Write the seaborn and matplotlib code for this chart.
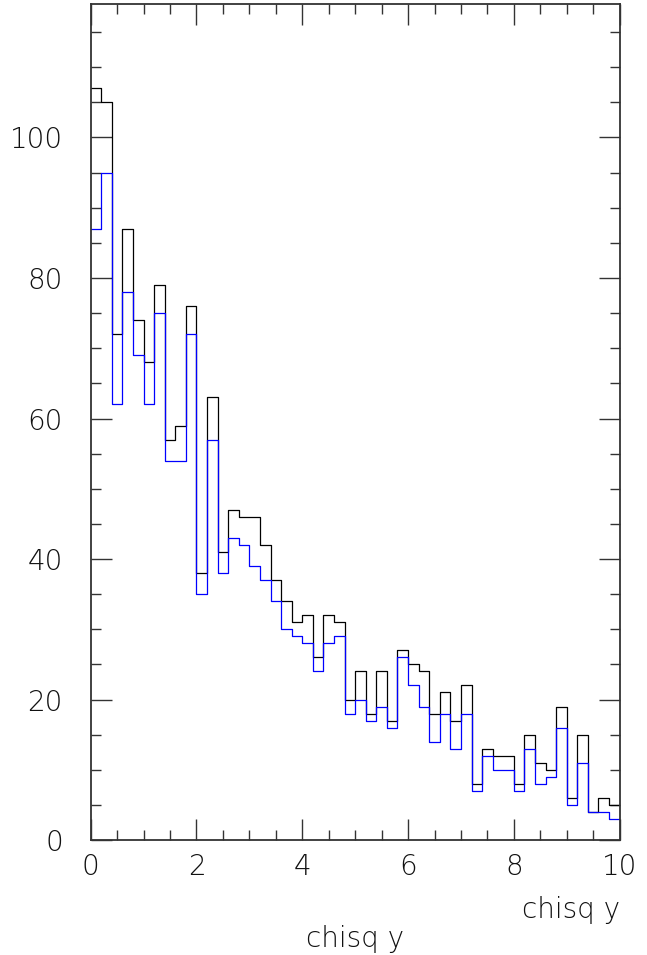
import numpy as np
import pandas as pd
import matplotlib
matplotlib.use('Agg')
import matplotlib.pyplot as plt
import seaborn as sns
from matplotlib.ticker import MultipleLocator

# bin edges: 50 bins of 0.2 between 0 and 10
edges = np.linspace(0, 10, 51)
centers = (edges[:-1] + edges[1:]) / 2

# black histogram (all entries)
counts_all = [107, 105, 72, 87, 74, 68, 79, 57, 59, 76,
              38, 63, 41, 47, 46, 46, 42, 37, 34, 31,
              32, 26, 32, 31, 20, 24, 18, 24, 17, 27,
              25, 24, 18, 21, 17, 22, 8, 13, 12, 12,
              8, 15, 11, 10, 19, 6, 15, 4, 6, 5]
# blue histogram (selected entries)
counts_sel = [87, 95, 62, 78, 69, 62, 75, 54, 54, 72,
              35, 57, 38, 43, 42, 39, 37, 34, 30, 29,
              28, 24, 28, 29, 18, 20, 17, 19, 16, 26,
              22, 19, 14, 18, 13, 18, 7, 12, 10, 10,
              7, 13, 8, 9, 16, 5, 11, 4, 4, 3]

df = pd.DataFrame({'x': centers, 'all': counts_all, 'sel': counts_sel})

sns.set_style('ticks')
plt.rcParams['font.family'] = ['DejaVu Sans']
plt.rcParams['font.weight'] = 'light'

fig = plt.figure(figsize=(6.47, 9.55), dpi=100)
ax = fig.add_axes([0.1402, 0.1204, 0.8175, 0.8754])

bin_list = edges.tolist()
sns.histplot(data=df, x='x', weights='all', bins=bin_list, element='step',
             fill=False, color='black', linewidth=0.9, ax=ax)
sns.histplot(data=df, x='x', weights='sel', bins=bin_list, element='step',
             fill=False, color='#0000ff', linewidth=0.9, ax=ax)

ax.set_xlim(0, 10)
ax.set_ylim(0, 119)
ax.xaxis.set_major_locator(MultipleLocator(2))
ax.xaxis.set_minor_locator(MultipleLocator(0.5))
ax.yaxis.set_major_locator(MultipleLocator(20))
ax.yaxis.set_minor_locator(MultipleLocator(5))
ax.tick_params(which='both', direction='in', top=True, right=True,
               colors='#333333', labelcolor='#111111', labelsize=20)
ax.tick_params(which='major', length=15, width=1.0)
ax.tick_params(which='minor', length=7.2, width=1.0)
ax.tick_params(axis='y', pad=20)
ax.tick_params(axis='x', pad=9)
for s in ax.spines.values():
    s.set_color('#333333')
    s.set_linewidth(1.3)

ax.set_ylabel('')
ax.set_xlabel('chisq y', fontsize=20, color='#111111', fontweight='light')
ax.xaxis.set_label_coords(0.5, -0.1017)
ax.xaxis.label.set_va('top')
ax.text(1.0, -0.0837, 'chisq y', transform=ax.transAxes, ha='right', va='center',
        fontsize=20, color='#111111', fontweight='light')

fig.savefig('out.png', dpi=100)
